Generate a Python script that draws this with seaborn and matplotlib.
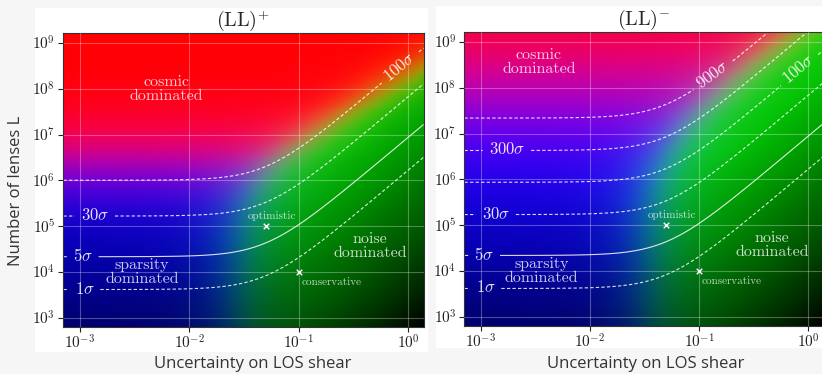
import numpy as np
import matplotlib
matplotlib.use('Agg')
import matplotlib.pyplot as plt
import seaborn as sns
from matplotlib.patches import Rectangle

sns.set_style('white')
plt.rcParams['font.family'] = ['Open Sans', 'DejaVu Sans']
plt.rcParams['mathtext.fontset'] = 'cm'

# axes ranges and ticks
x_range = (7e-4, 1.4)
y_range = (6.3e2, 1.65e9)
x_ticks = [1e-3, 1e-2, 1e-1, 1e0]
x_tick_labels = [r'$10^{-3}$', r'$10^{-2}$', r'$10^{-1}$', r'$10^{0}$']
y_ticks = [1e3, 1e4, 1e5, 1e6, 1e7, 1e8, 1e9]
y_tick_labels = [r'$10^{3}$', r'$10^{4}$', r'$10^{5}$', r'$10^{6}$',
                 r'$10^{7}$', r'$10^{8}$', r'$10^{9}$']
panel_titles = [r'$\mathrm{(LL)}^{+}$', r'$\mathrm{(LL)}^{-}$']

# detection significance model
L_one_sigma = 4.1e3     # lenses needed for 1 sigma at tiny shear uncertainty
sigma_knee = 0.05       # shear uncertainty where noise starts to matter
L_cosmic = [2e5, 1e5]
cosmic_power = [0.5, 0.33]

levels = [[1, 5, 30, 100], [1, 5, 30, 100, 300, 900]]
label_pos = [
    [(1.1e-3, 4.1e3), (1.06e-3, 2.1e4), (1.37e-3, 1.65e5), (0.85, 2.9e8)],
    [(1.1e-3, 4.1e3), (1.07e-3, 2.1e4), (1.37e-3, 1.7e5), (1.73e-3, 3.8e6),
     (0.84, 2.4e8), (0.134, 1.9e8)],
]

# colour model: red = cosmic, green = noise, blue = sparsity
L_red = [2.4e6, 8.6e7]
red_power = [0.72, 0.4]
sigma_green = [0.028, 0.035]
L_green = [6e5, 2.5e6]
green_power = [0.7, 0.75]
channel_gain = [1.0, 0.82, 1.0]
sigma_dim = 0.1
bright_logu = [0.5, 1.5, 2.8, 3.6, 4.3, 5.2, 6.0, 7.0]
bright_val = [0.0, 0.2, 0.43, 0.55, 0.67, 0.81, 0.93, 1.0]

# scenarios
scen_sigma = [0.05, 0.1]
scen_L = [1e5, 1e4]
scen_names = ['optimistic', 'conservative']
scen_text_pos = [[(0.057, 1.65e5), (0.107, 6e3)], [(0.056, 1.7e5), (0.106, 6e3)]]

region_names = ['cosmic\ndominated', 'sparsity\ndominated', 'noise\ndominated']
region_pos = [[(6.2e-3, 1e8), (3.7e-3, 1e4), (0.45, 3.7e4)],
              [(3.4e-3, 3.7e8), (3.6e-3, 1e4), (0.47, 3.7e4)]]

fig = plt.figure(figsize=(8.22, 3.74), dpi=100, facecolor='#f6f6f6')
fig.patches.append(Rectangle((0.0426, 0.0588), 0.478, 0.92, transform=fig.transFigure,
                             facecolor='white', edgecolor='none', zorder=-5))
fig.patches.append(Rectangle((0.530, 0.0695), 0.48, 0.914, transform=fig.transFigure,
                             facecolor='white', edgecolor='none', zorder=-5))

axes = [fig.add_axes([0.0766, 0.1257, 0.4392, 0.786]),
        fig.add_axes([0.5645, 0.1283, 0.438, 0.786])]

xe = np.logspace(np.log10(x_range[0]), np.log10(x_range[1]), 401)
ye = np.logspace(np.log10(y_range[0]), np.log10(y_range[1]), 301)
xc = np.sqrt(xe[1:] * xe[:-1])
yc = np.sqrt(ye[1:] * ye[:-1])
S, L = np.meshgrid(xc, yc)

for i, ax in enumerate(axes):
    ax.set_xscale('log')
    ax.set_yscale('log')

    w_r = (L / L_red[i]) ** red_power[i]
    w_g = (S / sigma_green[i]) ** 2 / (1 + (L / L_green[i]) ** green_power[i])
    w_b = np.ones_like(L)
    norm = np.sqrt(w_r ** 2 + w_g ** 2 + w_b ** 2)
    u = L / (1 + (S / sigma_dim) ** 2)
    bright = np.interp(np.log10(u), bright_logu, bright_val)
    rgb = np.dstack([w_r, w_g, w_b]) / norm[..., None] * bright[..., None]
    rgb = rgb * np.array(channel_gain)
    ax.pcolormesh(xe, ye, np.clip(rgb, 0, 1), shading='flat', rasterized=True)

    uc = L / (1 + (S / sigma_knee) ** 2)
    snr = (uc / L_one_sigma) / (1 + uc / L_cosmic[i]) ** cosmic_power[i]
    styles = ['-' if lv == 5 else (0, (3, 2)) for lv in levels[i]]
    cs = ax.contour(S, L, snr, levels=levels[i], colors='white', linewidths=0.8,
                    linestyles=styles, alpha=0.85)
    fmt = {lv: r'$%d\sigma$' % lv for lv in levels[i]}
    labs = ax.clabel(cs, fmt=fmt, manual=label_pos[i], inline=True, fontsize=12,
                     inline_spacing=6)
    for t in labs:
        t.set_alpha(0.9)

    sns.scatterplot(x=scen_sigma, y=scen_L, marker='x', s=16, color='white',
                    linewidth=1.0, ax=ax, zorder=5)
    for name, (px, py) in zip(scen_names, scen_text_pos[i]):
        ha = 'center' if name == 'optimistic' else 'left'
        ax.text(px, py, name, color='white', alpha=0.75, fontsize=8, ha=ha,
                va='center', fontfamily='cmr10')
    for name, (px, py) in zip(region_names, region_pos[i]):
        ax.text(px, py, name, color='white', alpha=0.8, fontsize=11.5, ha='center',
                va='center', fontfamily='cmr10', linespacing=1.05)

    ax.set_xlim(x_range)
    ax.set_ylim(y_range)
    ax.set_xticks(x_ticks)
    ax.set_xticklabels(x_tick_labels)
    ax.set_yticks(y_ticks)
    ax.set_yticklabels(y_tick_labels)
    ax.minorticks_off()
    ax.tick_params(bottom=True, left=True, length=3.5, width=0.8, direction='out',
                   labelsize=11, colors='#222222', pad=2)
    ax.set_axisbelow(False)
    ax.grid(True, color='white', alpha=0.3, linewidth=0.8)
    for sp in ax.spines.values():
        sp.set_color('#333333')
        sp.set_linewidth(0.8)
    ax.set_title(panel_titles[i], fontsize=14.5, pad=5)

fig.text(0.308, 0.028, 'Uncertainty on LOS shear', fontsize=12, color='#333333',
         ha='center', va='center')
fig.text(0.785, 0.028, 'Uncertainty on LOS shear', fontsize=12, color='#333333',
         ha='center', va='center')
fig.text(0.019, 0.49, 'Number of lenses L', fontsize=12, color='#333333',
         ha='center', va='center', rotation=90)

fig.savefig('out.png', dpi=100, facecolor=fig.get_facecolor())
